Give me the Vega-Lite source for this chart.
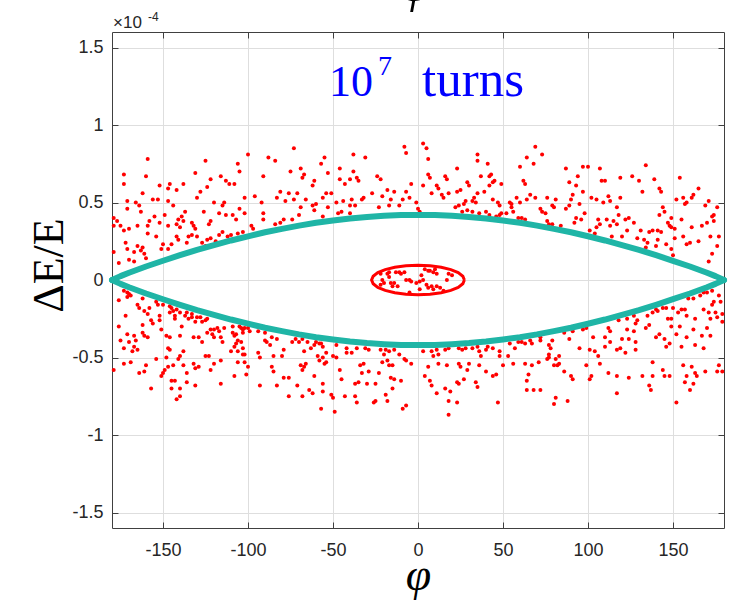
{
"$schema": "https://vega.github.io/schema/vega-lite/v6.json",
"width": 612, "height": 496,
"autosize": {"type": "none"},
"padding": {"left": 112, "top": 32, "right": 12, "bottom": 80},
"background": "white",
"config": {
  "view": {"stroke": null},
  "axis": {"domainColor": "#404040", "domainWidth": 1, "tickColor": "#404040", "tickSize": -6, "tickWidth": 1, "gridColor": "#dedede", "gridWidth": 1, "labelFont": "Liberation Sans", "labelFontSize": 18, "labelColor": "#262626", "titleFont": "Liberation Serif", "titleFontWeight": "normal", "titleColor": "#000000"}
},
"datasets": {
"pts": [
{"phi":-73,"dE":0.85},{"phi":-8,"dE":0.86},{"phi":-7,"dE":0.82},{"phi":-100,"dE":0.81},{"phi":-88,"dE":0.79},{"phi":-84,"dE":0.77},{"phi":-159,"dE":0.78},{"phi":-125,"dE":0.77},{"phi":-55,"dE":0.79},{"phi":-38,"dE":0.81},{"phi":-31,"dE":0.79},{"phi":-106,"dE":0.75},{"phi":-57,"dE":0.75},{"phi":-46,"dE":0.72},{"phi":-69,"dE":0.72},{"phi":-75,"dE":0.70},{"phi":-67,"dE":0.68},{"phi":-68,"dE":0.66},{"phi":-53,"dE":0.69},{"phi":-38,"dE":0.70},{"phi":-173,"dE":0.68},{"phi":-160,"dE":0.67},{"phi":-131,"dE":0.69},{"phi":-105,"dE":0.70},{"phi":-91,"dE":0.67},{"phi":-116,"dE":0.67},{"phi":-113,"dE":0.64},{"phi":-111,"dE":0.62},{"phi":-108,"dE":0.62},{"phi":-122,"dE":0.65},{"phi":-173,"dE":0.62},{"phi":-152,"dE":0.61},{"phi":-146,"dE":0.62},{"phi":-147,"dE":0.59},{"phi":-138,"dE":0.62},{"phi":-142,"dE":0.58},{"phi":-124,"dE":0.60},{"phi":-128,"dE":0.57},{"phi":-130,"dE":0.53},{"phi":-61,"dE":0.64},{"phi":-62,"dE":0.61},{"phi":-46,"dE":0.65},{"phi":-43,"dE":0.62},{"phi":-40,"dE":0.65},{"phi":-36,"dE":0.66},{"phi":-35,"dE":0.64},{"phi":-24,"dE":0.67},{"phi":-22,"dE":0.65},{"phi":-27,"dE":0.56},{"phi":-18,"dE":0.58},{"phi":-14,"dE":0.57},{"phi":-7,"dE":0.57},{"phi":-4,"dE":0.62},{"phi":-162,"dE":0.56},{"phi":-156,"dE":0.52},{"phi":-153,"dE":0.52},{"phi":-147,"dE":0.51},{"phi":-144,"dE":0.48},{"phi":-171,"dE":0.51},{"phi":-171,"dE":0.46},{"phi":-166,"dE":0.50},{"phi":-164,"dE":0.48},{"phi":-163,"dE":0.44},{"phi":-179,"dE":0.40},{"phi":-179,"dE":0.35},{"phi":-177,"dE":0.38},{"phi":-175,"dE":0.35},{"phi":-173,"dE":0.32},{"phi":-170,"dE":0.33},{"phi":-165,"dE":0.35},{"phi":-159,"dE":0.35},{"phi":-158,"dE":0.38},{"phi":-155,"dE":0.41},{"phi":-152,"dE":0.37},{"phi":-149,"dE":0.42},{"phi":-147,"dE":0.35},{"phi":-141,"dE":0.39},{"phi":-142,"dE":0.36},{"phi":-139,"dE":0.41},{"phi":-138,"dE":0.38},{"phi":-140,"dE":0.34},{"phi":-133,"dE":0.37},{"phi":-132,"dE":0.35},{"phi":-131,"dE":0.33},{"phi":-135,"dE":0.28},{"phi":-133,"dE":0.29},{"phi":-142,"dE":0.28},{"phi":-141,"dE":0.26},{"phi":-145,"dE":0.23},{"phi":-147,"dE":0.20},{"phi":-150,"dE":0.23},{"phi":-151,"dE":0.20},{"phi":-154,"dE":0.28},{"phi":-159,"dE":0.30},{"phi":-161,"dE":0.17},{"phi":-162,"dE":0.21},{"phi":-160,"dE":0.14},{"phi":-172,"dE":0.24},{"phi":-171,"dE":0.20},{"phi":-170,"dE":0.13},{"phi":-167,"dE":0.18},{"phi":-167,"dE":0.12},{"phi":-176,"dE":0.11},{"phi":-179,"dE":0.18},{"phi":-165,"dE":0.22},{"phi":-163,"dE":0.19},{"phi":-136,"dE":0.24},{"phi":-130,"dE":0.28},{"phi":-127,"dE":0.24},{"phi":-124,"dE":0.26},{"phi":-122,"dE":0.27},{"phi":-125,"dE":0.22},{"phi":-117,"dE":0.29},{"phi":-119,"dE":0.25},{"phi":-115,"dE":0.31},{"phi":-112,"dE":0.28},{"phi":-110,"dE":0.29},{"phi":-106,"dE":0.30},{"phi":-103,"dE":0.31},{"phi":-98,"dE":0.35},{"phi":-97,"dE":0.33},{"phi":-91,"dE":0.39},{"phi":-91,"dE":0.43},{"phi":-92,"dE":0.50},{"phi":-102,"dE":0.53},{"phi":-96,"dE":0.54},{"phi":-81,"dE":0.37},{"phi":-84,"dE":0.36},{"phi":-79,"dE":0.39},{"phi":-74,"dE":0.39},{"phi":-70,"dE":0.42},{"phi":-69,"dE":0.47},{"phi":-71,"dE":0.56},{"phi":-73,"dE":0.52},{"phi":-78,"dE":0.51},{"phi":-83,"dE":0.53},{"phi":-81,"dE":0.57},{"phi":-76,"dE":0.56},{"phi":-114,"dE":0.50},{"phi":-115,"dE":0.48},{"phi":-113,"dE":0.42},{"phi":-109,"dE":0.42},{"phi":-105,"dE":0.46},{"phi":-102,"dE":0.43},{"phi":-107,"dE":0.39},{"phi":-117,"dE":0.43},{"phi":-120,"dE":0.50},{"phi":-126,"dE":0.44},{"phi":-122,"dE":0.38},{"phi":-123,"dE":0.36},{"phi":-137,"dE":0.44},{"phi":-66,"dE":0.52},{"phi":-62,"dE":0.48},{"phi":-61,"dE":0.45},{"phi":-60,"dE":0.49},{"phi":-56,"dE":0.41},{"phi":-53,"dE":0.47},{"phi":-56,"dE":0.53},{"phi":-54,"dE":0.56},{"phi":-51,"dE":0.56},{"phi":-48,"dE":0.50},{"phi":-47,"dE":0.43},{"phi":-45,"dE":0.44},{"phi":-44,"dE":0.51},{"phi":-40,"dE":0.48},{"phi":-40,"dE":0.43},{"phi":-39,"dE":0.52},{"phi":-37,"dE":0.48},{"phi":-33,"dE":0.52},{"phi":-32,"dE":0.53},{"phi":-23,"dE":0.47},{"phi":-21,"dE":0.54},{"phi":-17,"dE":0.48},{"phi":-16,"dE":0.52},{"phi":-11,"dE":0.48},{"phi":-9,"dE":0.52},{"phi":-5,"dE":0.53},{"phi":-1,"dE":0.50},{"phi":0,"dE":0.46},{"phi":1,"dE":0.44},
{"phi":3,"dE":0.88},{"phi":5,"dE":0.85},{"phi":6,"dE":0.78},{"phi":6,"dE":0.68},{"phi":7,"dE":0.66},{"phi":3,"dE":0.61},{"phi":8,"dE":0.56},{"phi":11,"dE":0.61},{"phi":12,"dE":0.59},{"phi":14,"dE":0.55},{"phi":15,"dE":0.53},{"phi":16,"dE":0.67},{"phi":17,"dE":0.65},{"phi":18,"dE":0.56},{"phi":23,"dE":0.72},{"phi":23,"dE":0.57},{"phi":25,"dE":0.58},{"phi":29,"dE":0.63},{"phi":30,"dE":0.61},{"phi":35,"dE":0.81},{"phi":35,"dE":0.77},{"phi":37,"dE":0.67},{"phi":41,"dE":0.75},{"phi":42,"dE":0.67},{"phi":43,"dE":0.68},{"phi":42,"dE":0.61},{"phi":39,"dE":0.57},{"phi":44,"dE":0.63},{"phi":45,"dE":0.64},{"phi":49,"dE":0.62},{"phi":35,"dE":0.56},{"phi":33,"dE":0.53},{"phi":32,"dE":0.51},{"phi":34,"dE":0.50},{"phi":28,"dE":0.51},{"phi":27,"dE":0.49},{"phi":24,"dE":0.48},{"phi":22,"dE":0.47},{"phi":26,"dE":0.44},{"phi":29,"dE":0.45},{"phi":32,"dE":0.44},{"phi":36,"dE":0.43},{"phi":40,"dE":0.44},{"phi":42,"dE":0.42},{"phi":44,"dE":0.52},{"phi":47,"dE":0.50},{"phi":48,"dE":0.48},{"phi":49,"dE":0.43},{"phi":48,"dE":0.42},{"phi":46,"dE":0.41},{"phi":60,"dE":0.73},{"phi":62,"dE":0.64},{"phi":63,"dE":0.62},{"phi":64,"dE":0.79},{"phi":68,"dE":0.75},{"phi":69,"dE":0.86},{"phi":73,"dE":0.81},{"phi":58,"dE":0.53},{"phi":54,"dE":0.50},{"phi":55,"dE":0.49},{"phi":56,"dE":0.44},{"phi":52,"dE":0.43},{"phi":55,"dE":0.47},{"phi":60,"dE":0.50},{"phi":61,"dE":0.40},{"phi":63,"dE":0.39},{"phi":59,"dE":0.40},{"phi":64,"dE":0.52},{"phi":66,"dE":0.55},{"phi":69,"dE":0.53},{"phi":72,"dE":0.46},{"phi":73,"dE":0.44},{"phi":75,"dE":0.43},{"phi":76,"dE":0.53},{"phi":76,"dE":0.38},{"phi":77,"dE":0.36},{"phi":79,"dE":0.36},{"phi":81,"dE":0.52},{"phi":80,"dE":0.47},{"phi":79,"dE":0.48},{"phi":84,"dE":0.35},{"phi":87,"dE":0.72},{"phi":89,"dE":0.63},{"phi":90,"dE":0.52},{"phi":89,"dE":0.48},{"phi":87,"dE":0.46},{"phi":91,"dE":0.55},{"phi":93,"dE":0.61},{"phi":94,"dE":0.67},{"phi":97,"dE":0.73},{"phi":100,"dE":0.73},{"phi":97,"dE":0.57},{"phi":95,"dE":0.49},{"phi":93,"dE":0.40},{"phi":92,"dE":0.37},{"phi":96,"dE":0.39},{"phi":98,"dE":0.43},{"phi":102,"dE":0.53},{"phi":105,"dE":0.52},{"phi":107,"dE":0.72},{"phi":108,"dE":0.64},{"phi":110,"dE":0.64},{"phi":109,"dE":0.50},{"phi":112,"dE":0.54},{"phi":113,"dE":0.51},{"phi":106,"dE":0.39},{"phi":107,"dE":0.36},{"phi":105,"dE":0.34},{"phi":104,"dE":0.30},{"phi":101,"dE":0.32},{"phi":111,"dE":0.39},{"phi":113,"dE":0.35},{"phi":114,"dE":0.28},{"phi":115,"dE":0.38},{"phi":117,"dE":0.36},{"phi":117,"dE":0.47},{"phi":118,"dE":0.42},{"phi":119,"dE":0.53},{"phi":119,"dE":0.66},{"phi":120,"dE":0.28},{"phi":122,"dE":0.39},{"phi":123,"dE":0.32},{"phi":126,"dE":0.67},{"phi":124,"dE":0.40},{"phi":127,"dE":0.37},{"phi":129,"dE":0.27},{"phi":130,"dE":0.64},{"phi":131,"dE":0.32},{"phi":132,"dE":0.57},{"phi":134,"dE":0.74},{"phi":134,"dE":0.21},{"phi":133,"dE":0.26},{"phi":135,"dE":0.24},{"phi":136,"dE":0.31},{"phi":138,"dE":0.32},{"phi":139,"dE":0.65},{"phi":140,"dE":0.22},{"phi":141,"dE":0.26},{"phi":141,"dE":0.32},{"phi":142,"dE":0.42},{"phi":143,"dE":0.31},{"phi":144,"dE":0.47},{"phi":145,"dE":0.44},{"phi":142,"dE":0.59},{"phi":143,"dE":0.57},{"phi":146,"dE":0.23},{"phi":148,"dE":0.35},{"phi":149,"dE":0.40},{"phi":147,"dE":0.37},{"phi":149,"dE":0.34},{"phi":151,"dE":0.33},{"phi":151,"dE":0.27},{"phi":149,"dE":0.20},{"phi":150,"dE":0.16},{"phi":152,"dE":0.52},{"phi":154,"dE":0.66},{"phi":156,"dE":0.53},{"phi":155,"dE":0.39},{"phi":156,"dE":0.28},{"phi":157,"dE":0.49},{"phi":158,"dE":0.50},{"phi":158,"dE":0.23},{"phi":160,"dE":0.24},{"phi":161,"dE":0.34},{"phi":161,"dE":0.53},{"phi":162,"dE":0.55},{"phi":165,"dE":0.25},{"phi":165,"dE":0.59},{"phi":167,"dE":0.35},{"phi":169,"dE":0.48},{"phi":170,"dE":0.37},{"phi":171,"dE":0.51},{"phi":172,"dE":0.28},{"phi":173,"dE":0.41},{"phi":173,"dE":0.17},{"phi":174,"dE":0.42},{"phi":176,"dE":0.47},{"phi":176,"dE":0.22},{"phi":177,"dE":0.28},{"phi":171,"dE":0.12},{"phi":174,"dE":0.38},
{"phi":-173,"dE":-0.07},{"phi":-171,"dE":-0.08},{"phi":-170,"dE":-0.09},{"phi":-169,"dE":-0.10},{"phi":-171,"dE":-0.11},{"phi":-176,"dE":-0.13},{"phi":-172,"dE":-0.23},{"phi":-176,"dE":-0.30},{"phi":-175,"dE":-0.39},{"phi":-173,"dE":-0.44},{"phi":-171,"dE":-0.35},{"phi":-170,"dE":-0.40},{"phi":-168,"dE":-0.46},{"phi":-167,"dE":-0.36},{"phi":-166,"dE":-0.39},{"phi":-167,"dE":-0.43},{"phi":-165,"dE":-0.45},{"phi":-173,"dE":-0.54},{"phi":-169,"dE":-0.53},{"phi":-179,"dE":-0.58},{"phi":-164,"dE":-0.60},{"phi":-161,"dE":-0.59},{"phi":-160,"dE":-0.55},{"phi":-162,"dE":-0.29},{"phi":-162,"dE":-0.34},{"phi":-161,"dE":-0.36},{"phi":-159,"dE":-0.37},{"phi":-165,"dE":-0.16},{"phi":-164,"dE":-0.18},{"phi":-162,"dE":-0.12},{"phi":-161,"dE":-0.20},{"phi":-159,"dE":-0.22},{"phi":-158,"dE":-0.18},{"phi":-157,"dE":-0.26},{"phi":-156,"dE":-0.28},{"phi":-154,"dE":-0.14},{"phi":-152,"dE":-0.23},{"phi":-151,"dE":-0.32},{"phi":-152,"dE":-0.26},{"phi":-153,"dE":-0.16},{"phi":-150,"dE":-0.16},{"phi":-146,"dE":-0.17},{"phi":-145,"dE":-0.18},{"phi":-142,"dE":-0.19},{"phi":-146,"dE":-0.21},{"phi":-144,"dE":-0.20},{"phi":-143,"dE":-0.23},{"phi":-143,"dE":-0.25},{"phi":-140,"dE":-0.21},{"phi":-139,"dE":-0.30},{"phi":-137,"dE":-0.23},{"phi":-136,"dE":-0.21},{"phi":-135,"dE":-0.25},{"phi":-133,"dE":-0.22},{"phi":-133,"dE":-0.24},{"phi":-130,"dE":-0.24},{"phi":-131,"dE":-0.27},{"phi":-128,"dE":-0.24},{"phi":-127,"dE":-0.27},{"phi":-125,"dE":-0.26},{"phi":-124,"dE":-0.25},{"phi":-124,"dE":-0.34},{"phi":-122,"dE":-0.32},{"phi":-120,"dE":-0.32},{"phi":-121,"dE":-0.35},{"phi":-118,"dE":-0.31},{"phi":-117,"dE":-0.33},{"phi":-114,"dE":-0.31},{"phi":-109,"dE":-0.30},{"phi":-109,"dE":-0.34},{"phi":-108,"dE":-0.36},{"phi":-107,"dE":-0.35},{"phi":-105,"dE":-0.30},{"phi":-104,"dE":-0.31},{"phi":-103,"dE":-0.32},{"phi":-103,"dE":-0.34},{"phi":-102,"dE":-0.31},{"phi":-99,"dE":-0.33},{"phi":-94,"dE":-0.33},{"phi":-90,"dE":-0.34},{"phi":-100,"dE":-0.31},{"phi":-148,"dE":-0.36},{"phi":-146,"dE":-0.37},{"phi":-140,"dE":-0.36},{"phi":-132,"dE":-0.37},{"phi":-129,"dE":-0.37},{"phi":-127,"dE":-0.40},{"phi":-120,"dE":-0.37},{"phi":-116,"dE":-0.37},{"phi":-115,"dE":-0.40},{"phi":-154,"dE":-0.51},{"phi":-147,"dE":-0.44},{"phi":-146,"dE":-0.45},{"phi":-148,"dE":-0.50},{"phi":-138,"dE":-0.46},{"phi":-140,"dE":-0.49},{"phi":-141,"dE":-0.51},{"phi":-147,"dE":-0.56},{"phi":-149,"dE":-0.58},{"phi":-151,"dE":-0.62},{"phi":-150,"dE":-0.60},{"phi":-145,"dE":-0.65},{"phi":-143,"dE":-0.65},{"phi":-144,"dE":-0.55},{"phi":-138,"dE":-0.55},{"phi":-136,"dE":-0.60},{"phi":-136,"dE":-0.66},{"phi":-140,"dE":-0.70},{"phi":-140,"dE":-0.75},{"phi":-142,"dE":-0.77},{"phi":-145,"dE":-0.70},{"phi":-157,"dE":-0.70},{"phi":-132,"dE":-0.54},{"phi":-131,"dE":-0.57},{"phi":-129,"dE":-0.56},{"phi":-131,"dE":-0.68},{"phi":-125,"dE":-0.49},{"phi":-123,"dE":-0.49},{"phi":-120,"dE":-0.54},{"phi":-116,"dE":-0.52},{"phi":-116,"dE":-0.67},{"phi":-122,"dE":-0.58},{"phi":-110,"dE":-0.46},{"phi":-108,"dE":-0.43},{"phi":-107,"dE":-0.41},{"phi":-106,"dE":-0.46},{"phi":-106,"dE":-0.39},{"phi":-104,"dE":-0.40},{"phi":-103,"dE":-0.48},{"phi":-102,"dE":-0.48},{"phi":-103,"dE":-0.44},{"phi":-101,"dE":-0.61},{"phi":-100,"dE":-0.56},{"phi":-108,"dE":-0.62},{"phi":-106,"dE":-0.53},{"phi":-102,"dE":-0.53},{"phi":-94,"dE":-0.47},{"phi":-93,"dE":-0.50},{"phi":-93,"dE":-0.68},{"phi":-90,"dE":-0.39},{"phi":-89,"dE":-0.40},{"phi":-87,"dE":-0.42},{"phi":-86,"dE":-0.37},{"phi":-83,"dE":-0.38},{"phi":-85,"dE":-0.49},{"phi":-86,"dE":-0.56},{"phi":-85,"dE":-0.59},{"phi":-83,"dE":-0.68},{"phi":-80,"dE":-0.49},{"phi":-79,"dE":-0.45},{"phi":-79,"dE":-0.63},{"phi":-76,"dE":-0.63},{"phi":-74,"dE":-0.40},{"phi":-72,"dE":-0.38},{"phi":-70,"dE":-0.40},{"phi":-68,"dE":-0.38},{"phi":-67,"dE":-0.46},{"phi":-69,"dE":-0.55},{"phi":-68,"dE":-0.58},{"phi":-67,"dE":-0.56},{"phi":-66,"dE":-0.54},{"phi":-65,"dE":-0.40},{"phi":-63,"dE":-0.44},{"phi":-61,"dE":-0.42},{"phi":-60,"dE":-0.40},{"phi":-58,"dE":-0.41},{"phi":-57,"dE":-0.41},{"phi":-56,"dE":-0.43},{"phi":-59,"dE":-0.49},{"phi":-58,"dE":-0.52},{"phi":-56,"dE":-0.50},{"phi":-54,"dE":-0.47},{"phi":-55,"dE":-0.54},{"phi":-54,"dE":-0.53},{"phi":-50,"dE":-0.49},{"phi":-48,"dE":-0.50},{"phi":-61,"dE":-0.62},{"phi":-64,"dE":-0.71},{"phi":-62,"dE":-0.73},{"phi":-68,"dE":-0.75},{"phi":-71,"dE":-0.68},{"phi":-76,"dE":-0.75},{"phi":-56,"dE":-0.67},{"phi":-56,"dE":-0.72},{"phi":-51,"dE":-0.74},{"phi":-50,"dE":-0.76},{"phi":-57,"dE":-0.83},{"phi":-49,"dE":-0.85},{"phi":-46,"dE":-0.58},{"phi":-45,"dE":-0.64},{"phi":-48,"dE":-0.42},{"phi":-43,"dE":-0.75},{"phi":-42,"dE":-0.44},{"phi":-42,"dE":-0.47},{"phi":-39,"dE":-0.47},{"phi":-36,"dE":-0.44},{"phi":-37,"dE":-0.75},{"phi":-36,"dE":-0.79},{"phi":-37,"dE":-0.67},{"phi":-35,"dE":-0.66},{"phi":-34,"dE":-0.55},{"phi":-33,"dE":-0.60},{"phi":-32,"dE":-0.54},{"phi":-31,"dE":-0.44},{"phi":-29,"dE":-0.45},{"phi":-29,"dE":-0.59},{"phi":-30,"dE":-0.67},{"phi":-26,"dE":-0.79},{"phi":-25,"dE":-0.78},{"phi":-25,"dE":-0.67},{"phi":-23,"dE":-0.60},{"phi":-21,"dE":-0.53},{"phi":-22,"dE":-0.45},{"phi":-19,"dE":-0.45},{"phi":-20,"dE":-0.48},{"phi":-18,"dE":-0.52},{"phi":-17,"dE":-0.55},{"phi":-15,"dE":-0.55},{"phi":-17,"dE":-0.46},{"phi":-14,"dE":-0.45},{"phi":-16,"dE":-0.63},{"phi":-14,"dE":-0.64},{"phi":-15,"dE":-0.70},{"phi":-19,"dE":-0.74},{"phi":-18,"dE":-0.78},{"phi":-11,"dE":-0.48},{"phi":-10,"dE":-0.65},{"phi":-8,"dE":-0.51},{"phi":-7,"dE":-0.52},{"phi":-4,"dE":-0.54},{"phi":-9,"dE":-0.83},{"phi":-7,"dE":-0.81},
{"phi":3,"dE":-0.46},{"phi":8,"dE":-0.46},{"phi":9,"dE":-0.49},{"phi":11,"dE":-0.45},{"phi":12,"dE":-0.48},{"phi":16,"dE":-0.45},{"phi":18,"dE":-0.44},{"phi":24,"dE":-0.44},{"phi":26,"dE":-0.45},{"phi":28,"dE":-0.44},{"phi":32,"dE":-0.44},{"phi":35,"dE":-0.43},{"phi":36,"dE":-0.46},{"phi":37,"dE":-0.49},{"phi":40,"dE":-0.45},{"phi":41,"dE":-0.43},{"phi":44,"dE":-0.44},{"phi":48,"dE":-0.46},{"phi":48,"dE":-0.49},{"phi":53,"dE":-0.49},{"phi":54,"dE":-0.41},{"phi":57,"dE":-0.44},{"phi":59,"dE":-0.40},{"phi":61,"dE":-0.40},{"phi":63,"dE":-0.41},{"phi":66,"dE":-0.39},{"phi":67,"dE":-0.41},{"phi":72,"dE":-0.37},{"phi":72,"dE":-0.39},{"phi":77,"dE":-0.42},{"phi":78,"dE":-0.44},{"phi":79,"dE":-0.39},{"phi":77,"dE":-0.48},{"phi":77,"dE":-0.50},{"phi":81,"dE":-0.51},{"phi":83,"dE":-0.49},{"phi":86,"dE":-0.34},{"phi":89,"dE":-0.38},{"phi":91,"dE":-0.33},{"phi":95,"dE":-0.44},{"phi":97,"dE":-0.32},{"phi":99,"dE":-0.31},{"phi":101,"dE":-0.45},{"phi":104,"dE":-0.46},{"phi":103,"dE":-0.37},{"phi":106,"dE":-0.49},{"phi":110,"dE":-0.43},{"phi":112,"dE":-0.31},{"phi":113,"dE":-0.33},{"phi":110,"dE":-0.37},{"phi":113,"dE":-0.40},{"phi":117,"dE":-0.45},{"phi":119,"dE":-0.44},{"phi":120,"dE":-0.38},{"phi":122,"dE":-0.47},{"phi":123,"dE":-0.32},{"phi":124,"dE":-0.38},{"phi":128,"dE":-0.45},{"phi":128,"dE":-0.40},{"phi":127,"dE":-0.33},{"phi":127,"dE":-0.23},{"phi":123,"dE":-0.25},{"phi":118,"dE":-0.26},{"phi":128,"dE":-0.28},{"phi":129,"dE":-0.26},{"phi":134,"dE":-0.31},{"phi":136,"dE":-0.29},{"phi":135,"dE":-0.23},{"phi":138,"dE":-0.21},{"phi":140,"dE":-0.19},{"phi":141,"dE":-0.20},{"phi":144,"dE":-0.18},{"phi":146,"dE":-0.18},{"phi":140,"dE":-0.37},{"phi":142,"dE":-0.35},{"phi":145,"dE":-0.38},{"phi":146,"dE":-0.43},{"phi":148,"dE":-0.41},{"phi":149,"dE":-0.30},{"phi":150,"dE":-0.18},{"phi":149,"dE":-0.25},{"phi":147,"dE":-0.25},{"phi":152,"dE":-0.35},{"phi":154,"dE":-0.30},{"phi":153,"dE":-0.21},{"phi":155,"dE":-0.19},{"phi":157,"dE":-0.19},{"phi":158,"dE":-0.23},{"phi":159,"dE":-0.12},{"phi":162,"dE":-0.12},{"phi":163,"dE":-0.25},{"phi":166,"dE":-0.10},{"phi":167,"dE":-0.36},{"phi":168,"dE":-0.19},{"phi":171,"dE":-0.21},{"phi":172,"dE":-0.25},{"phi":170,"dE":-0.31},{"phi":173,"dE":-0.16},{"phi":174,"dE":-0.14},{"phi":177,"dE":-0.10},{"phi":175,"dE":-0.21},{"phi":176,"dE":-0.24},{"phi":179,"dE":-0.27},{"phi":179,"dE":-0.22},{"phi":178,"dE":-0.14},{"phi":173,"dE":-0.07},{"phi":170,"dE":-0.08},{"phi":168,"dE":-0.08},{"phi":162,"dE":-0.32},{"phi":158,"dE":-0.37},{"phi":155,"dE":-0.43},{"phi":163,"dE":-0.42},{"phi":168,"dE":-0.44},{"phi":172,"dE":-0.36},{"phi":177,"dE":-0.55},{"phi":179,"dE":-0.59},{"phi":176,"dE":-0.59},{"phi":169,"dE":-0.59},{"phi":163,"dE":-0.60},{"phi":164,"dE":-0.62},{"phi":161,"dE":-0.56},{"phi":156,"dE":-0.55},{"phi":158,"dE":-0.62},{"phi":157,"dE":-0.66},{"phi":162,"dE":-0.67},{"phi":160,"dE":-0.71},{"phi":152,"dE":-0.79},{"phi":148,"dE":-0.62},{"phi":145,"dE":-0.62},{"phi":144,"dE":-0.58},{"phi":138,"dE":-0.53},{"phi":138,"dE":-0.62},{"phi":137,"dE":-0.71},{"phi":136,"dE":-0.68},{"phi":132,"dE":-0.62},{"phi":124,"dE":-0.63},{"phi":117,"dE":-0.62},{"phi":117,"dE":-0.73},{"phi":112,"dE":-0.60},{"phi":107,"dE":-0.54},{"phi":102,"dE":-0.62},{"phi":101,"dE":-0.64},{"phi":99,"dE":-0.55},{"phi":91,"dE":-0.64},{"phi":90,"dE":-0.62},{"phi":88,"dE":-0.78},{"phi":86,"dE":-0.59},{"phi":83,"dE":-0.54},{"phi":82,"dE":-0.55},{"phi":80,"dE":-0.55},{"phi":81,"dE":-0.76},{"phi":80,"dE":-0.80},{"phi":76,"dE":-0.51},{"phi":72,"dE":-0.71},{"phi":71,"dE":-0.53},{"phi":68,"dE":-0.71},{"phi":64,"dE":-0.71},{"phi":65,"dE":-0.61},{"phi":64,"dE":-0.65},{"phi":63,"dE":-0.54},{"phi":67,"dE":-0.55},{"phi":56,"dE":-0.54},{"phi":50,"dE":-0.55},{"phi":46,"dE":-0.61},{"phi":44,"dE":-0.62},{"phi":47,"dE":-0.79},{"phi":40,"dE":-0.59},{"phi":36,"dE":-0.55},{"phi":34,"dE":-0.66},{"phi":35,"dE":-0.69},{"phi":30,"dE":-0.54},{"phi":29,"dE":-0.58},{"phi":25,"dE":-0.56},{"phi":24,"dE":-0.54},{"phi":23,"dE":-0.66},{"phi":24,"dE":-0.67},{"phi":27,"dE":-0.64},{"phi":19,"dE":-0.72},{"phi":18,"dE":-0.78},{"phi":18,"dE":-0.87},{"phi":23,"dE":-0.79},{"phi":17,"dE":-0.55},{"phi":16,"dE":-0.70},{"phi":12,"dE":-0.54},{"phi":11,"dE":-0.73},{"phi":8,"dE":-0.68},{"phi":7,"dE":-0.65},{"phi":4,"dE":-0.62},{"phi":6,"dE":-0.56},
{"phi":-22,"dE":0.04},{"phi":-21,"dE":0.00},{"phi":-20,"dE":-0.02},{"phi":-18,"dE":0.04},{"phi":-17,"dE":0.02},{"phi":-16,"dE":-0.02},{"phi":-15,"dE":-0.04},{"phi":-14,"dE":-0.02},{"phi":-17,"dE":0.05},{"phi":-13,"dE":0.05},{"phi":-11,"dE":0.05},{"phi":-10,"dE":0.04},{"phi":-8,"dE":0.05},{"phi":-7,"dE":0.00},{"phi":-5,"dE":0.00},{"phi":-4,"dE":-0.01},{"phi":-5,"dE":-0.08},{"phi":1,"dE":-0.01},{"phi":3,"dE":0.00},{"phi":2,"dE":0.03},{"phi":4,"dE":0.07},{"phi":6,"dE":0.06},{"phi":7,"dE":0.06},{"phi":9,"dE":0.05},{"phi":11,"dE":0.04},{"phi":10,"dE":0.07},{"phi":5,"dE":-0.03},{"phi":6,"dE":-0.05},{"phi":8,"dE":-0.04},{"phi":9,"dE":-0.06},{"phi":11,"dE":-0.04},{"phi":13,"dE":-0.05},{"phi":15,"dE":-0.07},{"phi":18,"dE":0.04},{"phi":20,"dE":0.03},{"phi":17,"dE":0.00},{"phi":-12,"dE":-0.04},{"phi":1,"dE":-0.06},{"phi":-22,"dE":-0.03},{"phi":-1,"dE":-0.02}
],
"sep": [
{"branch":"upper","phi":-180,"dE":0},{"branch":"upper","phi":-175,"dE":0.025},{"branch":"upper","phi":-170,"dE":0.047},{"branch":"upper","phi":-160,"dE":0.087},{"branch":"upper","phi":-150,"dE":0.124},{"branch":"upper","phi":-140,"dE":0.160},{"branch":"upper","phi":-130,"dE":0.194},{"branch":"upper","phi":-120,"dE":0.225},{"branch":"upper","phi":-110,"dE":0.255},{"branch":"upper","phi":-100,"dE":0.282},{"branch":"upper","phi":-90,"dE":0.308},{"branch":"upper","phi":-80,"dE":0.330},{"branch":"upper","phi":-70,"dE":0.351},{"branch":"upper","phi":-60,"dE":0.369},{"branch":"upper","phi":-50,"dE":0.384},{"branch":"upper","phi":-40,"dE":0.397},{"branch":"upper","phi":-30,"dE":0.407},{"branch":"upper","phi":-20,"dE":0.414},{"branch":"upper","phi":-10,"dE":0.419},{"branch":"upper","phi":0,"dE":0.42},{"branch":"upper","phi":10,"dE":0.419},{"branch":"upper","phi":20,"dE":0.414},{"branch":"upper","phi":30,"dE":0.407},{"branch":"upper","phi":40,"dE":0.397},{"branch":"upper","phi":50,"dE":0.384},{"branch":"upper","phi":60,"dE":0.369},{"branch":"upper","phi":70,"dE":0.351},{"branch":"upper","phi":80,"dE":0.330},{"branch":"upper","phi":90,"dE":0.308},{"branch":"upper","phi":100,"dE":0.282},{"branch":"upper","phi":110,"dE":0.255},{"branch":"upper","phi":120,"dE":0.225},{"branch":"upper","phi":130,"dE":0.194},{"branch":"upper","phi":140,"dE":0.160},{"branch":"upper","phi":150,"dE":0.124},{"branch":"upper","phi":160,"dE":0.087},{"branch":"upper","phi":170,"dE":0.047},{"branch":"upper","phi":175,"dE":0.025},{"branch":"upper","phi":180,"dE":0},
{"branch":"lower","phi":-180,"dE":0},{"branch":"lower","phi":-175,"dE":-0.025},{"branch":"lower","phi":-170,"dE":-0.047},{"branch":"lower","phi":-160,"dE":-0.087},{"branch":"lower","phi":-150,"dE":-0.124},{"branch":"lower","phi":-140,"dE":-0.160},{"branch":"lower","phi":-130,"dE":-0.194},{"branch":"lower","phi":-120,"dE":-0.225},{"branch":"lower","phi":-110,"dE":-0.255},{"branch":"lower","phi":-100,"dE":-0.282},{"branch":"lower","phi":-90,"dE":-0.308},{"branch":"lower","phi":-80,"dE":-0.330},{"branch":"lower","phi":-70,"dE":-0.351},{"branch":"lower","phi":-60,"dE":-0.369},{"branch":"lower","phi":-50,"dE":-0.384},{"branch":"lower","phi":-40,"dE":-0.397},{"branch":"lower","phi":-30,"dE":-0.407},{"branch":"lower","phi":-20,"dE":-0.414},{"branch":"lower","phi":-10,"dE":-0.419},{"branch":"lower","phi":0,"dE":-0.42},{"branch":"lower","phi":10,"dE":-0.419},{"branch":"lower","phi":20,"dE":-0.414},{"branch":"lower","phi":30,"dE":-0.407},{"branch":"lower","phi":40,"dE":-0.397},{"branch":"lower","phi":50,"dE":-0.384},{"branch":"lower","phi":60,"dE":-0.369},{"branch":"lower","phi":70,"dE":-0.351},{"branch":"lower","phi":80,"dE":-0.330},{"branch":"lower","phi":90,"dE":-0.308},{"branch":"lower","phi":100,"dE":-0.282},{"branch":"lower","phi":110,"dE":-0.255},{"branch":"lower","phi":120,"dE":-0.225},{"branch":"lower","phi":130,"dE":-0.194},{"branch":"lower","phi":140,"dE":-0.160},{"branch":"lower","phi":150,"dE":-0.124},{"branch":"lower","phi":160,"dE":-0.087},{"branch":"lower","phi":170,"dE":-0.047},{"branch":"lower","phi":175,"dE":-0.025},{"branch":"lower","phi":180,"dE":0}
],
"ell": [
{"i":0,"phi":27.3,"dE":0},{"i":1,"phi":26.37,"dE":0.0246},{"i":2,"phi":23.64,"dE":0.0475},{"i":3,"phi":19.30,"dE":0.0672},{"i":4,"phi":13.65,"dE":0.0823},{"i":5,"phi":7.07,"dE":0.0918},{"i":6,"phi":0,"dE":0.095},{"i":7,"phi":-7.07,"dE":0.0918},{"i":8,"phi":-13.65,"dE":0.0823},{"i":9,"phi":-19.30,"dE":0.0672},{"i":10,"phi":-23.64,"dE":0.0475},{"i":11,"phi":-26.37,"dE":0.0246},{"i":12,"phi":-27.3,"dE":0},{"i":13,"phi":-26.37,"dE":-0.0246},{"i":14,"phi":-23.64,"dE":-0.0475},{"i":15,"phi":-19.30,"dE":-0.0672},{"i":16,"phi":-13.65,"dE":-0.0823},{"i":17,"phi":-7.07,"dE":-0.0918},{"i":18,"phi":0,"dE":-0.095},{"i":19,"phi":7.07,"dE":-0.0918},{"i":20,"phi":13.65,"dE":-0.0823},{"i":21,"phi":19.30,"dE":-0.0672},{"i":22,"phi":23.64,"dE":-0.0475},{"i":23,"phi":26.37,"dE":-0.0246},{"i":24,"phi":27.3,"dE":0}
]
},
"layer": [
{
  "data": {"name": "pts"},
  "mark": {"type": "circle", "size": 16, "color": "#ff0000", "opacity": 1},
  "encoding": {
    "x": {"field": "phi", "type": "quantitative", "scale": {"domain": [-180, 180], "nice": false, "zero": false},
      "axis": {"orient": "bottom", "values": [-150, -100, -50, 0, 50, 100, 150], "labelExpr": "'' + datum.value", "labelPadding": 19, "grid": true, "title": "φ", "titleFontSize": 46, "titleFontStyle": "italic", "titleX": 306, "titleY": 61, "titleBaseline": "alphabetic", "titleAlign": "center"}},
    "y": {"field": "dE", "type": "quantitative", "scale": {"domain": [-1.6, 1.6], "nice": false, "zero": false},
      "axis": {"orient": "left", "values": [-1.5, -1, -0.5, 0, 0.5, 1, 1.5], "labelExpr": "'' + datum.value", "labelPadding": 15, "grid": true, "title": "ΔE/E", "titleFontSize": 44, "titleAngle": -90, "titleX": -50, "titleY": 233, "titleBaseline": "alphabetic", "titleAlign": "center"}}
  }
},
{
  "data": {"name": "sep"},
  "mark": {"type": "line", "color": "#1fb5a6", "strokeWidth": 6, "strokeCap": "round", "strokeJoin": "round"},
  "encoding": {
    "x": {"field": "phi", "type": "quantitative", "axis": {"orient": "top", "values": [-150, -100, -50, 0, 50, 100, 150], "labels": false, "grid": false, "title": null}},
    "y": {"field": "dE", "type": "quantitative", "axis": {"orient": "right", "values": [-1.5, -1, -0.5, 0, 0.5, 1, 1.5], "labels": false, "grid": false, "title": null}},
    "detail": {"field": "branch"}
  }
},
{
  "data": {"name": "ell"},
  "mark": {"type": "line", "color": "#ff0000", "strokeWidth": 3},
  "encoding": {
    "x": {"field": "phi", "type": "quantitative", "axis": null},
    "y": {"field": "dE", "type": "quantitative", "axis": null},
    "order": {"field": "i", "type": "quantitative"}
  }
},
{
  "data": {"values": [{"phi": -52.4, "dE": 1.19, "t": "10"}]},
  "mark": {"type": "text", "font": "Liberation Serif", "fontSize": 44, "color": "#0000ff", "align": "left", "baseline": "alphabetic"},
  "encoding": {"x": {"field": "phi", "type": "quantitative", "axis": null}, "y": {"field": "dE", "type": "quantitative", "axis": null}, "text": {"field": "t"}}
},
{
  "data": {"values": [{"phi": -23.5, "dE": 1.32, "t": "7"}]},
  "mark": {"type": "text", "font": "Liberation Serif", "fontSize": 28, "color": "#0000ff", "align": "left", "baseline": "alphabetic"},
  "encoding": {"x": {"field": "phi", "type": "quantitative", "axis": null}, "y": {"field": "dE", "type": "quantitative", "axis": null}, "text": {"field": "t"}}
},
{
  "data": {"values": [{"phi": 2.4, "dE": 1.19, "t": "turns"}]},
  "mark": {"type": "text", "font": "Liberation Serif", "fontSize": 51, "color": "#0000ff", "align": "left", "baseline": "alphabetic"},
  "encoding": {"x": {"field": "phi", "type": "quantitative", "axis": null}, "y": {"field": "dE", "type": "quantitative", "axis": null}, "text": {"field": "t"}}
},
{
  "data": {"values": [{"phi": -180, "dE": 1.6, "t": "×10"}]},
  "mark": {"type": "text", "font": "Liberation Sans", "fontSize": 17, "color": "#262626", "align": "left", "baseline": "alphabetic", "dx": 1, "dy": -4},
  "encoding": {"x": {"field": "phi", "type": "quantitative", "axis": null}, "y": {"field": "dE", "type": "quantitative", "axis": null}, "text": {"field": "t"}}
},
{
  "data": {"values": [{"phi": -180, "dE": 1.6, "t": "-4"}]},
  "mark": {"type": "text", "font": "Liberation Sans", "fontSize": 12, "color": "#262626", "align": "left", "baseline": "alphabetic", "dx": 36, "dy": -11},
  "encoding": {"x": {"field": "phi", "type": "quantitative", "axis": null}, "y": {"field": "dE", "type": "quantitative", "axis": null}, "text": {"field": "t"}}
},
{
  "data": {"values": [{"phi": 0, "dE": 1.6, "t": "φ"}]},
  "mark": {"type": "text", "font": "Liberation Serif", "fontStyle": "italic", "fontSize": 56, "color": "#000000", "align": "center", "baseline": "alphabetic", "dx": -2, "dy": -32},
  "encoding": {"x": {"field": "phi", "type": "quantitative", "axis": null}, "y": {"field": "dE", "type": "quantitative", "axis": null}, "text": {"field": "t"}}
}
],
"resolve": {"axis": {"x": "independent", "y": "independent"}}
}
